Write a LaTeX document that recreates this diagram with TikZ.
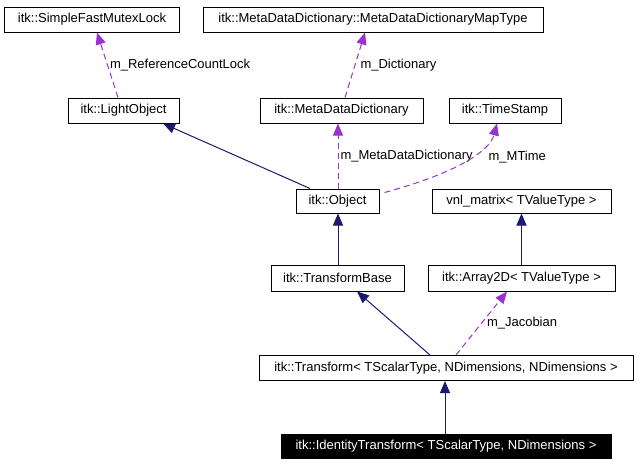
\documentclass[tikz,border=0pt]{standalone}
\usepackage{fontspec}
\setmainfont{Liberation Sans}
\usepackage{tikz}
\usetikzlibrary{positioning,calc,arrows.meta}
\definecolor{navyedge}{rgb}{0.1, 0.1, 0.44}
\definecolor{orchidedge}{rgb}{0.6, 0.2, 0.8}

\begin{document}
\begin{tikzpicture}[x=1pt,y=-1pt,line width=1pt,
                font=\fontsize{13}{15}\selectfont,
                class node/.style={rectangle,draw,minimum height=25pt,inner sep=0pt},
                focus node/.style={class node,fill=black,text=white},
                inherit/.style={-{Triangle[length=12pt,width=10pt]},color=navyedge},
                member/.style={dash pattern=on 6pt off 4pt,-{Triangle[length=12pt,width=10pt]},color=orchidedge},
                lbl/.style={text=black,right,inner sep=2pt}]
\useasboundingbox (0,0) rectangle (637,464);
%Nodes
    \node[class node, minimum width=175pt] (Mutex) at (92,19.5) {itk::SimpleFastMutexLock};
    \node[class node, minimum width=340pt] (MapType) at (373,19.5) {itk::MetaDataDictionary::MetaDataDictionaryMapType};
    \node[class node, minimum width=111pt] (Light) at (123.5,110.5) {itk::LightObject};
    \node[class node, minimum width=163pt] (Dict) at (341.5,110.5) {itk::MetaDataDictionary};
    \node[class node, minimum width=112pt] (Stamp) at (505,110.5) {itk::TimeStamp};
    \node[class node, minimum width=83pt, minimum height=24pt] (Obj) at (337.5,201) {itk::Object};
    \node[class node, minimum width=179pt, minimum height=24pt] (Vnl) at (521.5,201) {vnl\_matrix< TValueType >};
    \node[class node, minimum width=133pt, minimum height=26pt] (TBase) at (337.5,278) {itk::TransformBase};
    \node[class node, minimum width=187pt, minimum height=26pt] (Arr) at (521.5,278) {itk::Array2D< TValueType >};
    \node[class node, minimum width=374pt] (Trans) at (446,368) {itk::Transform< TScalarType, NDimensions, NDimensions >};
    \node[focus node, minimum width=330pt, minimum height=24pt] (Ident) at (446,446) {itk::IdentityTransform< TScalarType, NDimensions >};

    \path[member] ([xshift=-5.5pt]Light.north) edge node[lbl] {m\_ReferenceCountLock} ([xshift=5pt]Mutex.south);
    \path[member] ([xshift=3.5pt]Dict.north) edge node[lbl,xshift=3pt] {m\_Dictionary} ([xshift=-8pt]MapType.south);
    \path[member] ([xshift=0.5pt]Obj.north) edge node[lbl] {m\_MetaDataDictionary} ([xshift=-3.5pt]Dict.south);
    \draw[member] ([xshift=5pt,yshift=-4pt]Obj.north east) .. controls (460,172) and (490,150) .. node[lbl,pos=0.6,xshift=10pt,yshift=-4pt] {m\_MTime} ([xshift=-8pt]Stamp.south);
    \path[inherit] ([xshift=-27.5pt]Obj.north) edge ([xshift=39.5pt]Light.south);
    \path[inherit] ([xshift=0.5pt]TBase.north) edge ([xshift=0.5pt]Obj.south);
    \path[inherit] (Arr) edge (Vnl);
    \path[inherit] ([xshift=-16pt]Trans.north) edge ([xshift=19.5pt]TBase.south);
    \path[member] ([xshift=10pt]Trans.north) edge node[lbl,xshift=3pt] {m\_Jacobian} ([xshift=-14.5pt]Arr.south);
    \path[inherit] ([xshift=-1pt]Ident.north) edge ([xshift=-1pt]Trans.south);
\end{tikzpicture}
\end{document}
